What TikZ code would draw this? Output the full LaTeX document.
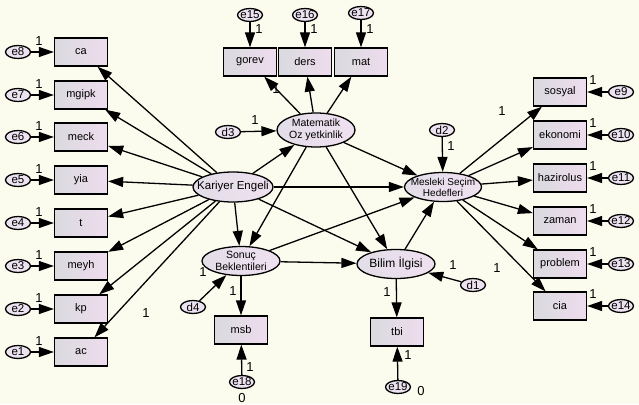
\documentclass[tikz,border=0pt]{standalone}
\usepackage{fontspec}
\setmainfont{Liberation Sans}
\usetikzlibrary{arrows.meta,shapes.geometric}
\definecolor{bg}{RGB}{252,252,238}
\definecolor{boxL}{RGB}{218,218,222}
\definecolor{boxR}{RGB}{238,220,238}
\definecolor{latL}{RGB}{226,222,232}
\definecolor{latR}{RGB}{240,224,240}
\definecolor{errF}{RGB}{236,226,240}
\tikzset{
  obs/.style={draw, line width=1.3pt, minimum width=53pt, minimum height=28pt, inner sep=0pt,
    left color=boxL, right color=boxR, font=\fontsize{11}{12}\selectfont},
  lat/.style={ellipse, draw, line width=1.3pt, inner xsep=-20pt, inner ysep=-8pt, align=center,
    left color=latL, right color=latR, minimum width=78pt, minimum height=29pt},
  err/.style={ellipse, draw, line width=1.3pt, inner xsep=-3pt, inner ysep=-2pt, fill=errF,
    minimum width=25pt, minimum height=13pt, font=\fontsize{11.5}{11.5}\selectfont},
  arr/.style={-{Triangle[length=15pt,width=10pt]}, line width=1.3pt},
  lab/.style={inner sep=0pt, font=\fontsize{13}{13}\selectfont}
}
\begin{document}
\begin{tikzpicture}[x=1pt,y=-1pt]
\fill[bg] (0,0) rectangle (639,404);
\useasboundingbox (0,0) rectangle (639,404);

% latent variables
\node[lat, minimum width=80pt, minimum height=30pt, font=\fontsize{11.5}{12}\selectfont] (KE) at (233,187) {Kariyer Engeli};
\node[lat, minimum height=34pt, font=\fontsize{10.5}{11.5}\selectfont] (MO) at (316,130) {Matematik\\Oz yetkinlik};
\node[lat, minimum width=77pt, font=\fontsize{10}{11}\selectfont] (MS) at (443,187) {Mesleki Seçim\\Hedefleri};
\node[lat, font=\fontsize{10.5}{11.5}\selectfont] (SB) at (241,261) {Sonuç\\Beklentileri};
\node[lat, font=\fontsize{12}{12}\selectfont] (BI) at (396,264) {Bilim İlgisi};

% left observed
\foreach \n/\t/\y/\e in {ca/ca/52/e8, mgipk/mgipk/95/e7, meck/meck/137/e6, yia/yia/180/e5,
  t/t/223/e4, meyh/meyh/266/e3, kp/kp/309/e2, ac/ac/352/e1}{
  \node[obs] (\n) at (81,\y) {\t};
  \node[err] (\e) at (18,\y) {\e};
  \draw[arr] (\e) -- (\n);
  \node[lab] (l\e) at (39,\y-11) {1};
  \draw[arr] (KE) -- (\n);
}
% right observed
\foreach \n/\y/\e in {sosyal/92/e9, ekonomi/135/e10, hazirolus/178/e11, zaman/221/e12,
  problem/264/e13, cia/306/e14}{
  \node[obs] (\n) at (560,\y) {\n};
  \node[err] (\e) at (621,\y) {\e};
  \draw[arr] (\e) -- (\n);
  \node[lab] (l\e) at (593,\y-12) {1};
  \draw[arr] (MS) -- (\n);
}
% top observed
\foreach \n/\x/\e/\ey in {gorev/250/e15/15, ders/305/e16/15, mat/361/e17/13}{
  \node[obs] (\n) at (\x,62) {\n};
  \node[err] (\e) at (\x,\ey) {\e};
  \draw[arr] (\e) -- (\n);
  \node[lab] (l\e) at (\x+9,29) {1};
  \draw[arr] (MO) -- (\n);
}
% bottom observed
\node[obs] (msb) at (241,330) {msb};
\node[obs] (tbi) at (397,332) {tbi};
\node[err] (e18) at (242,382) {e18};
\node[err] (e19) at (398,387) {e19};
\draw[arr] (SB) -- (msb);
\draw[arr] (BI) -- (tbi);
\draw[arr] (e18) -- (msb);
\draw[arr] (e19) -- (tbi);

% disturbances
\node[err] (d1) at (473,285) {d1};
\node[err] (d2) at (442,130) {d2};
\node[err] (d3) at (228,132) {d3};
\node[err] (d4) at (193,307) {d4};
\draw[arr] (d1) -- (BI);
\draw[arr] (d2) -- (MS);
\draw[arr] (d3) -- (MO);
\draw[arr] (d4) -- (SB);

% structural paths
\draw[arr] (KE) -- (MO);
\draw[arr] (KE) -- (MS);
\draw[arr] (KE) -- (SB);
\draw[arr] (KE) -- (BI);
\draw[arr] (MO) -- (MS);
\draw[arr] (MO) -- (SB);
\draw[arr] (MO) -- (BI);
\draw[arr] (SB) -- (MS);
\draw[arr] (SB) -- (BI);
\draw[arr] (BI) -- (MS);

% labels
\node[lab] (k1) at (146,313) {1};
\node[lab] (k2) at (276,89) {1};
\node[lab] (k3) at (502,111) {1};
\node[lab] (k4) at (497,268) {1};
\node[lab] (k5) at (233,291) {1};
\node[lab] (k6) at (387,292) {1};
\node[lab] (k7) at (203,272) {1};
\node[lab] (k8) at (453,265) {1};
\node[lab] (k9) at (255,120) {1};
\node[lab] (k10) at (451,146) {1};
\node[lab] (k11) at (250,367) {1};
\node[lab] (k12) at (408,355) {1};
\node[lab] (z1) at (242,398) {0};
\node[lab] (z2) at (421,391) {0};
\end{tikzpicture}
\end{document}
